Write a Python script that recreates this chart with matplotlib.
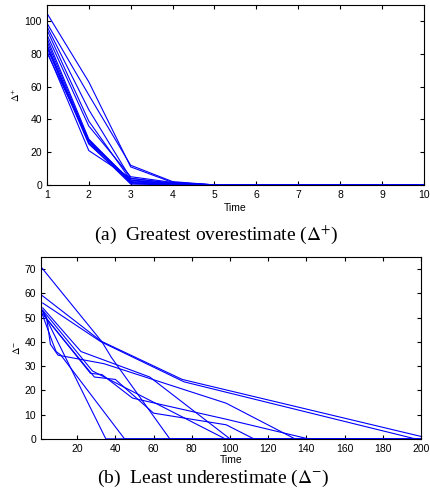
"""Two-panel figure: greatest overestimate and least underestimate over time."""

import matplotlib

matplotlib.use("Agg")
import matplotlib.pyplot as plt  # noqa: E402
import numpy as np  # noqa: E402

BLUE = "#0000ff"

plt.rcParams.update({
    "font.family": ["Liberation Sans", "DejaVu Sans"],
    "font.size": 7.5,
    "mathtext.fontset": "stix",
    "xtick.direction": "in",
    "ytick.direction": "in",
    "xtick.top": True,
    "ytick.right": True,
    "xtick.major.size": 3,
    "ytick.major.size": 3,
    "axes.linewidth": 0.8,
})

# (a) overestimate runs, value at each time step 1..10
time_a = list(range(1, 11))
runs_a = [
    [105, 63, 11, 1.5, 0, 0, 0, 0, 0, 0],
    [99, 55, 12, 2, 0, 0, 0, 0, 0, 0],
    [97, 46, 4, 1, 0, 0, 0, 0, 0, 0],
    [95, 39, 3, 0.5, 0, 0, 0, 0, 0, 0],
    [92, 36, 5, 1.5, 0, 0, 0, 0, 0, 0],
    [90, 28, 2, 0.3, 0, 0, 0, 0, 0, 0],
    [88, 27, 1, 0.5, 0, 0, 0, 0, 0, 0],
    [86, 26, 3, 0.5, 0, 0, 0, 0, 0, 0],
    [85, 25.5, 0.5, 0, 0, 0, 0, 0, 0, 0],
    [84, 25, 1.5, 0.2, 0, 0, 0, 0, 0, 0],
    [82, 21, 4, 1, 0, 0, 0, 0, 0, 0],
    [81, 27.5, 2.5, 0.8, 0, 0, 0, 0, 0, 0],
]

# (b) underestimate runs, breakpoints (time, value); each run stays at 0 until 200
runs_b_t = [
    [1, 33, 38, 68.5],
    [1, 32.5, 75, 200],
    [2, 32.5, 76, 197],
    [2, 35],
    [1, 7, 9, 11.5, 44.8],
    [1, 4, 6, 10, 34, 98, 134],
    [2, 28, 97.5],
    [2, 27, 33, 49, 98, 141],
    [3, 29, 40, 60, 98, 112.5],
    [2, 22, 58, 100],
]
runs_b_v = [
    [71, 40, 33.5, 0],
    [59.5, 40.3, 24.5, 1],
    [56, 40, 23.5, 0],
    [52.5, 0],
    [53, 40, 36, 34.5, 0],
    [54, 50, 39, 34.5, 31, 14.7, 0],
    [53, 28, 0],
    [51.5, 27, 26.5, 16.8, 8.1, 0],
    [50.5, 25.5, 24.5, 10.6, 5.8, 0],
    [54, 36, 25.5, 0],
]

fig = plt.figure(figsize=(4.3, 4.97), dpi=100)

ax1 = fig.add_axes([0.109, 0.628, 0.877, 0.362])
for vals in runs_a:
    ax1.plot(time_a, vals, color=BLUE, lw=0.8)
ax1.set_xlim(1, 10)
ax1.set_ylim(0, 110)
ax1.set_xticks(time_a)
ax1.set_yticks(np.arange(0, 101, 20))
ax1.set_xlabel("Time", labelpad=2)
ax1.set_ylabel(r"$\Delta^{+}$", labelpad=2)

ax2 = fig.add_axes([0.095, 0.117, 0.884, 0.366])
for ts, vs in zip(runs_b_t, runs_b_v):
    ts = list(ts)
    vs = list(vs)
    if ts[-1] < 200:
        ts.append(200)
        vs.append(0)
    ax2.plot(ts, vs, color=BLUE, lw=0.8)
ax2.set_xlim(1, 200)
ax2.set_ylim(0, 75)
ax2.set_xticks(np.arange(20, 201, 20))
ax2.set_yticks(np.arange(0, 71, 10))
ax2.set_xlabel("Time", labelpad=1)
ax2.set_ylabel(r"$\Delta^{-}$", labelpad=2)

fig.text(0.503, 0.527, r"(a)  Greatest overestimate ($\Delta^{+}$)",
         ha="center", va="center", fontsize=14, family="Liberation Serif")
fig.text(0.497, 0.038, r"(b)  Least underestimate ($\Delta^{-}$)",
         ha="center", va="center", fontsize=14, family="Liberation Serif")

fig.savefig("out.png", dpi=100)
